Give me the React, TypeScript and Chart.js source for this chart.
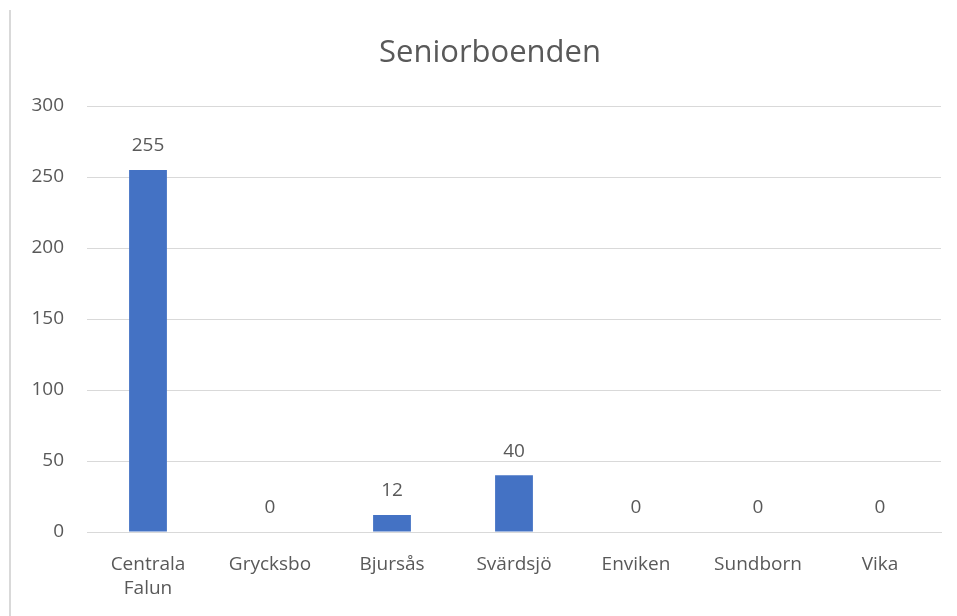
import React, { useEffect, useRef } from "react";
import { Chart, registerables } from "chart.js";

Chart.register(...registerables);

const categories: string[][] = [
  ["Centrala", "Falun"],
  ["Grycksbo"],
  ["Bjursås"],
  ["Svärdsjö"],
  ["Enviken"],
  ["Sundborn"],
  ["Vika"],
];
const values: number[] = [255, 0, 12, 40, 0, 0, 0];
const titleText = "Seniorboenden";
const yMax = 300;
const yStep = 50;

const FONT = "'Open Sans', sans-serif";
const TEXT = "#595959";

const titlePlugin = {
  id: "customTitle",
  afterDraw(chart: any) {
    const ctx = chart.ctx;
    ctx.save();
    ctx.font = `31px ${FONT}`;
    ctx.fillStyle = TEXT;
    ctx.textAlign = "center";
    ctx.textBaseline = "middle";
    ctx.fillText(titleText, 490, 53);
    ctx.restore();
  },
};

const dataLabelPlugin = {
  id: "dataLabels",
  afterDatasetsDraw(chart: any) {
    const ctx = chart.ctx;
    const meta = chart.getDatasetMeta(0);
    ctx.save();
    ctx.font = `19px ${FONT}`;
    ctx.fillStyle = TEXT;
    ctx.textAlign = "center";
    ctx.textBaseline = "middle";
    meta.data.forEach((el: any, i: number) => {
      ctx.fillText(String(values[i]), el.x, el.y - 24);
    });
    ctx.restore();
  },
};

export default function App() {
  const ref = useRef<HTMLCanvasElement>(null);
  useEffect(() => {
    if (!ref.current) return;
    const chart = new Chart(ref.current, {
      type: "bar",
      data: {
        labels: categories,
        datasets: [
          {
            data: values,
            backgroundColor: "#4472C4",
            barPercentage: 1,
            categoryPercentage: 0.31,
          },
        ],
      },
      options: {
        animation: false,
        responsive: false,
        maintainAspectRatio: false,
        layout: { padding: { top: 106, right: 16, bottom: 0, left: 0 } },
        plugins: {
          legend: { display: false },
          title: { display: false },
          tooltip: { enabled: false },
        },
        scales: {
          x: {
            grid: { display: false, drawTicks: false },
            border: { display: true, color: "#D9D9D9", width: 1 },
            ticks: {
              color: TEXT,
              font: { family: FONT, size: 19, lineHeight: 1.26 },
              padding: 21,
              maxRotation: 0,
              autoSkip: false,
            },
            afterFit(scale: any) {
              scale.height = 84;
            },
          },
          y: {
            min: 0,
            max: yMax,
            grid: { color: "#D9D9D9", lineWidth: 1, drawTicks: false },
            border: { display: false },
            ticks: {
              stepSize: yStep,
              color: TEXT,
              font: { family: FONT, size: 19 },
              padding: 23,
            },
            afterFit(scale: any) {
              scale.width = 87;
            },
          },
        },
      },
      plugins: [titlePlugin, dataLabelPlugin],
    });
    return () => chart.destroy();
  }, []);
  return (
    <div
      style={{
        position: "fixed",
        left: 0,
        top: 0,
        width: 957,
        height: 616,
        background: "#fff",
      }}
    >
      <div
        style={{
          position: "absolute",
          left: 9,
          top: 10,
          width: 2,
          height: 606,
          background: "#D9D9D9",
        }}
      />
      <canvas
        ref={ref}
        width={957}
        height={616}
        style={{ position: "absolute", left: 0, top: 0 }}
      />
    </div>
  );
}
